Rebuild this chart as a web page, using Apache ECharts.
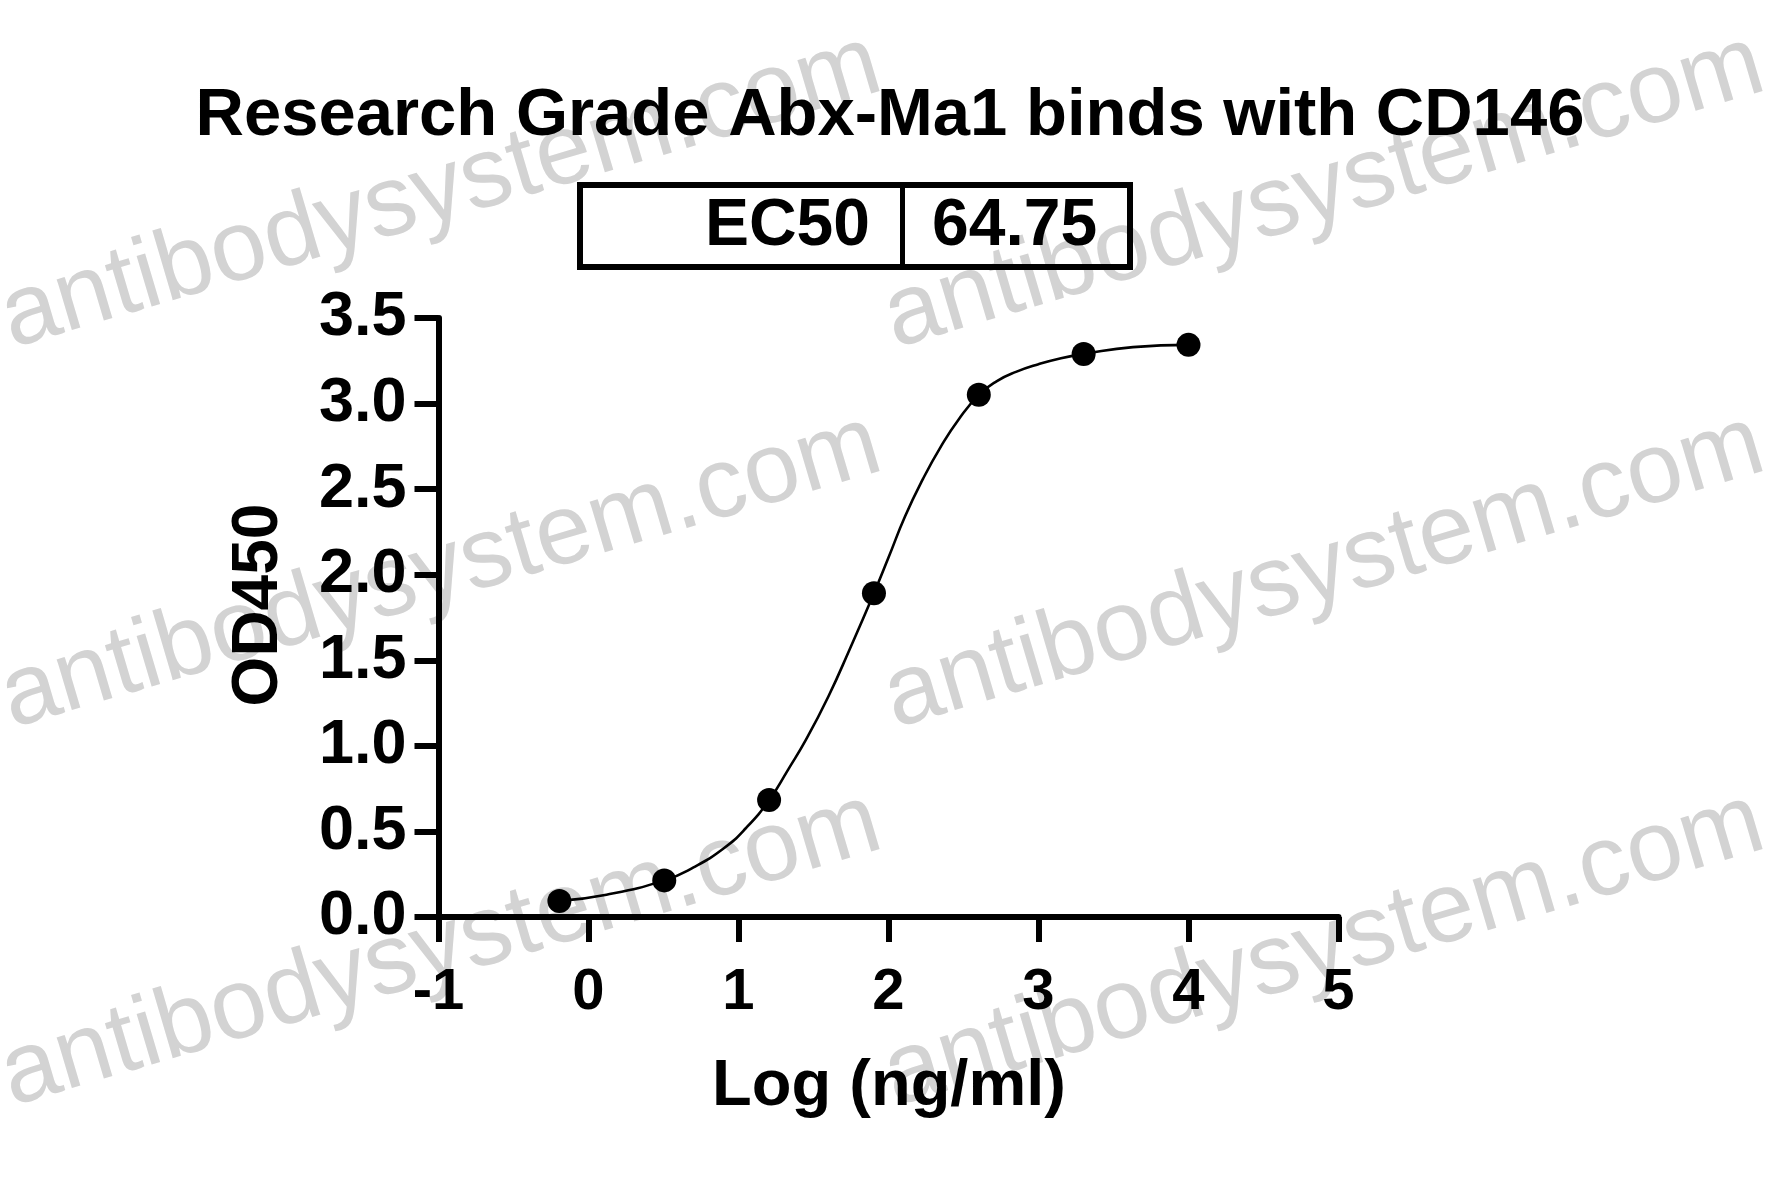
<!DOCTYPE html>
<html>
<head>
<meta charset="utf-8">
<script src="https://cdn.jsdelivr.net/npm/echarts@6/dist/echarts.min.js"></script>
<style>
html,body{margin:0;padding:0;background:#fff;}
#chart{width:1781px;height:1197px;}
</style>
</head>
<body>
<div id="chart"></div>
<script>
// ---- data ----
const titleText = 'Research Grade Abx-Ma1 binds with CD146';
const ec50Label = 'EC50';
const ec50Value = '64.75';
const xAxisTitle = 'Log (ng/ml)';
const yAxisTitle = 'OD450';
const watermarkText = 'antibodysystem.com';

// measured points: log concentration and OD450
const logConc = [-0.194, 0.505, 1.204, 1.903, 2.602, 3.301, 4.0];
const od450 = [0.094, 0.214, 0.684, 1.892, 3.051, 3.290, 3.343];

// fitted curve
const curveX = [-0.19, 0.12, 0.505, 0.7, 0.9, 1.05, 1.205, 1.33, 1.45, 1.6, 1.74, 1.903, 2.0, 2.11, 2.23, 2.35, 2.47, 2.603, 2.72, 2.85, 3.0, 3.15, 3.303, 3.63, 4.0];
const curveY = [0.094, 0.13, 0.214, 0.29, 0.40, 0.52, 0.684, 0.86, 1.036, 1.29, 1.562, 1.892, 2.10, 2.34, 2.56, 2.75, 2.91, 3.051, 3.13, 3.185, 3.23, 3.265, 3.29, 3.33, 3.343];

const xTicks = [-1, 0, 1, 2, 3, 4, 5];
const yTicks = ['0.0', '0.5', '1.0', '1.5', '2.0', '2.5', '3.0', '3.5'];

// ---- chart ----
const FONT = '"Liberation Sans", Arial, Helvetica, sans-serif';
const chart = echarts.init(document.getElementById('chart'), null, {renderer: 'canvas'});

const wmPos = [[14, 355], [897, 355], [14, 735], [897, 735], [14, 1113], [897, 1113]];
const wmAngle = 16.5 * Math.PI / 180;
const watermarks = wmPos.map(p => ({
  type: 'text', x: p[0], y: p[1], rotation: wmAngle, z: -10, silent: true,
  style: {text: watermarkText, x: 0, y: -35, fill: '#d3d3d3',
          font: '100px ' + FONT, align: 'left', verticalAlign: 'middle'}
}));

const option = {
  backgroundColor: '#ffffff',
  animation: false,
  grid: {left: 438.5, right: 442.5, top: 318, bottom: 280, containLabel: false},
  xAxis: {
    type: 'value', min: -1, max: 5, interval: 1,
    axisLine: {show: true, onZero: false, lineStyle: {color: '#000', width: 6}},
    axisTick: {show: true, inside: false, length: 25, lineStyle: {color: '#000', width: 6}},
    axisLabel: {show: true, margin: 47, color: '#000', fontFamily: FONT, fontWeight: 'bold', fontSize: 58,
                formatter: v => String(xTicks[xTicks.indexOf(v)])},
    splitLine: {show: false}
  },
  yAxis: {
    type: 'value', min: 0, max: 3.5, interval: 0.5,
    axisLine: {show: true, onZero: false, lineStyle: {color: '#000', width: 6}},
    axisTick: {show: true, inside: false, length: 24, lineStyle: {color: '#000', width: 6}},
    axisLabel: {show: true, margin: 32, color: '#000', fontFamily: FONT, fontWeight: 'bold', fontSize: 63,
                formatter: v => yTicks[Math.round(v / 0.5)]},
    splitLine: {show: false}
  },
  series: [
    {
      name: 'fit', type: 'line', data: curveX.map((x, i) => [x, curveY[i]]),
      smooth: 0.5, showSymbol: false, symbol: 'none',
      lineStyle: {color: '#000', width: 2.6}, z: 3
    },
    {
      name: 'OD450', type: 'scatter', data: logConc.map((x, i) => [x, od450[i]]),
      symbol: 'circle', symbolSize: 24, itemStyle: {color: '#000', opacity: 1}, z: 4
    }
  ],
  graphic: watermarks.concat([
    {type: 'text', x: 890, y: 117, z: 10,
     style: {text: titleText, font: 'bold 67px ' + FONT, fill: '#000', align: 'center', verticalAlign: 'middle'}},
    {type: 'rect', z: 10, shape: {x: 580, y: 185, width: 550, height: 82},
     style: {fill: 'none', stroke: '#000', lineWidth: 6}},
    {type: 'line', z: 10, shape: {x1: 902.5, y1: 185, x2: 902.5, y2: 267},
     style: {stroke: '#000', lineWidth: 5}},
    {type: 'text', x: 870, y: 227, z: 10,
     style: {text: ec50Label, font: 'bold 66px ' + FONT, fill: '#000', align: 'right', verticalAlign: 'middle'}},
    {type: 'text', x: 932, y: 227, z: 10,
     style: {text: ec50Value, font: 'bold 66px ' + FONT, fill: '#000', align: 'left', verticalAlign: 'middle'}},
    {type: 'text', x: 889, y: 1087, z: 10,
     style: {text: xAxisTitle, font: 'bold 65px ' + FONT, fill: '#000', align: 'center', verticalAlign: 'middle'}},
    {type: 'text', x: 259, y: 605, z: 10, rotation: Math.PI / 2,
     style: {text: yAxisTitle, font: 'bold 64px ' + FONT, fill: '#000', align: 'center', verticalAlign: 'middle'}}
  ])
};
chart.setOption(option);
</script>
</body>
</html>
